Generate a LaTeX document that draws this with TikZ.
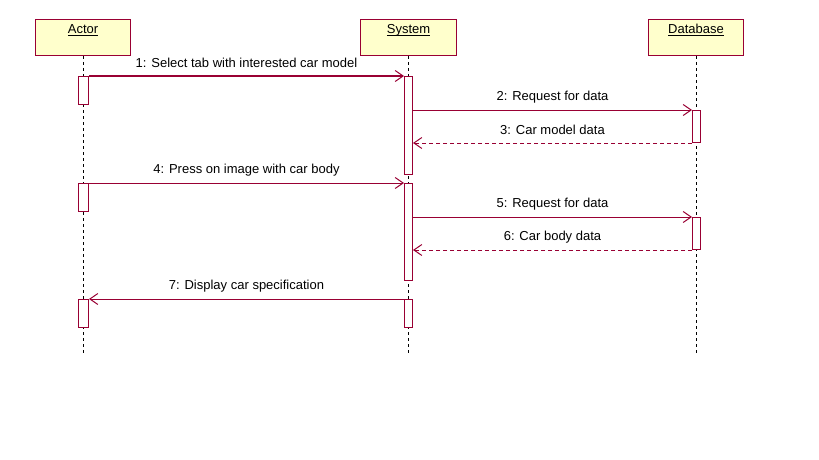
\documentclass[tikz,border=0pt]{standalone}
\usepackage{fontspec}
\setmainfont{Liberation Sans}
\usetikzlibrary{arrows.meta}
\definecolor{umlline}{RGB}{153,0,51}
\definecolor{umlfill}{RGB}{255,255,204}
\begin{document}
\begin{tikzpicture}[x=1pt,y=-1pt,
  objbox/.style={draw=umlline, fill=umlfill, line width=1pt, minimum height=36pt, inner sep=0pt},
  objlabel/.style={font=\fontsize{13pt}{15pt}\selectfont, anchor=base},
  actbox/.style={draw=umlline, fill=white, line width=1pt, inner sep=0pt},
  lifeline/.style={draw=black, line width=1pt, dash pattern=on 3pt off 3pt},
  msg/.style={draw=umlline, line width=1pt, -{Straight Barb[length=8pt,width=11pt,line width=1pt]}},
  ret/.style={msg, dash pattern=on 4pt off 3pt},
  lbl/.style={font=\fontsize{13pt}{15pt}\selectfont, midway, yshift=13pt}
]
\useasboundingbox (0,0) rectangle (819,460);
% objects
\node[objbox, minimum width=95pt] (actor) at (83,37.5) {};
\node[objbox, minimum width=96pt] (system) at (408.5,37.5) {};
\node[objbox, minimum width=95pt] (db) at (696,37.5) {};
\node[objlabel] at (83,34) {\underline{\smash{Actor}}};
\node[objlabel] at (408.5,34) {\underline{\smash{System}}};
\node[objlabel] at (696,34) {\underline{\smash{Database}}};
% lifeline ends
\coordinate (actorEnd) at (83.5,354);
\coordinate (systemEnd) at (408.5,354);
\coordinate (dbEnd) at (696.5,354);
\draw[lifeline] (actor.south -| actorEnd) -- (actorEnd);
\draw[lifeline] (system.south -| systemEnd) -- (systemEnd);
\draw[lifeline] (db.south -| dbEnd) -- (dbEnd);
% activations
\node[actbox, minimum width=10pt, minimum height=28pt] (a1) at (83.5,90.5) {};
\node[actbox, minimum width=10pt, minimum height=28pt] (a2) at (83.5,197.5) {};
\node[actbox, minimum width=10pt, minimum height=28pt] (a3) at (83.5,313.5) {};
\node[actbox, minimum width=8pt, minimum height=98pt] (s1) at (408.5,125.5) {};
\node[actbox, minimum width=8pt, minimum height=97pt] (s2) at (408.5,232) {};
\node[actbox, minimum width=8pt, minimum height=28pt] (s3) at (408.5,313.5) {};
\node[actbox, minimum width=8pt, minimum height=32pt] (d1) at (696.5,126.5) {};
\node[actbox, minimum width=8pt, minimum height=32pt] (d2) at (696.5,233.5) {};
% messages
\draw[msg] (a1.north east) -- node[lbl] {1: Select tab with interested car model} (s1.north west);
\draw[msg] (s1.east |- d1.north) -- node[lbl] {2: Request for data} (d1.north west);
\draw[ret] (d1.south west) -- node[lbl] {3: Car model data} (s1.east |- d1.south);
\draw[msg] (a2.north east) -- node[lbl] {4: Press on image with car body} (s2.north west);
\draw[msg] (s2.east |- d2.north) -- node[lbl] {5: Request for data} (d2.north west);
\draw[ret] (d2.south west) -- node[lbl] {6: Car body data} (s2.east |- d2.south);
\draw[msg] (s3.north west) -- node[lbl] {7: Display car specification} (a3.north east);
\end{tikzpicture}
\end{document}
